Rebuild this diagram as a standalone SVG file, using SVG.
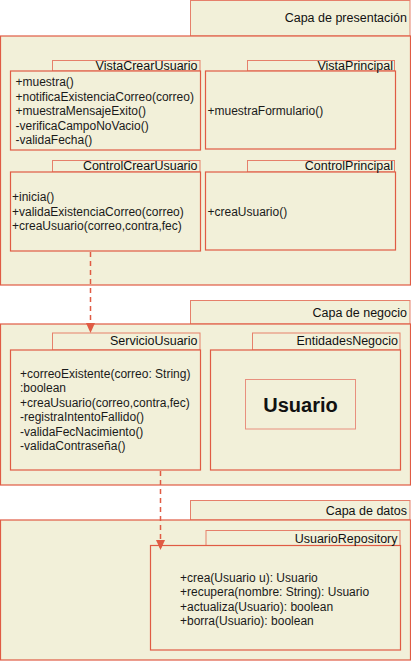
<svg xmlns="http://www.w3.org/2000/svg" width="411" height="668" viewBox="0 0 411 668">
<defs>
<style>
.body{fill:#F2F0D9;stroke:#E05B44;stroke-width:1.2}
.tab{fill:#F2F0D9;stroke:#E6806B;stroke-width:1}
.inner{fill:#F2F0D9;stroke:#E8907E;stroke-width:1}
text{font-family:"Liberation Sans",Arial,sans-serif;font-size:12px;fill:#1a1a1a}
.lbl{text-anchor:end;font-size:12.5px;fill:#111}
.big{font-size:20px;font-weight:bold;text-anchor:middle;fill:#111}
.conn{fill:none;stroke:#E05B44;stroke-width:1.5;stroke-dasharray:5 4}
</style>
<marker id="arr" viewBox="0 0 10 10" refX="10" refY="5" markerWidth="10" markerHeight="10" markerUnits="userSpaceOnUse" orient="auto">
<path d="M0,0.5 L10,5 L0,9.5 Z" fill="#E05B44"/>
</marker>
</defs>

<g id="capa-presentacion">
<rect class="tab" x="190.5" y="0.5" width="219.5" height="35.5"/>
<rect class="body" x="0.5" y="36" width="410" height="249"/>
<text class="lbl" x="407" y="22">Capa de presentación</text>
</g>

<g id="VistaCrearUsuario">
<rect class="tab" x="52.5" y="60.5" width="147.5" height="10.5"/>
<rect class="body" x="10.5" y="71" width="190" height="79"/>
<text class="lbl" x="197.5" y="70">VistaCrearUsuario</text>
<text x="15.5" y="86">+muestra()</text>
<text x="15.5" y="100.5">+notificaExistenciaCorreo(correo)</text>
<text x="15.5" y="115">+muestraMensajeExito()</text>
<text x="15.5" y="129.5">-verificaCampoNoVacio()</text>
<text x="15.5" y="144">-validaFecha()</text>
</g>

<g id="VistaPrincipal">
<rect class="tab" x="247.5" y="60.5" width="147" height="10.5"/>
<rect class="body" x="205.5" y="71" width="190" height="78"/>
<text class="lbl" x="393" y="70">VistaPrincipal</text>
<text x="207.5" y="114.5">+muestraFormulario()</text>
</g>

<g id="ControlCrearUsuario">
<rect class="tab" x="52.5" y="160.5" width="147.5" height="11.5"/>
<rect class="body" x="10.5" y="172" width="190" height="79"/>
<text class="lbl" x="197.5" y="170">ControlCrearUsuario</text>
<text x="12" y="201">+inicia()</text>
<text x="12" y="215.5">+validaExistenciaCorreo(correo)</text>
<text x="12" y="230">+creaUsuario(correo,contra,fec)</text>
</g>

<g id="ControlPrincipal">
<rect class="tab" x="247.5" y="160.5" width="147" height="11.5"/>
<rect class="body" x="205.5" y="172" width="190" height="78"/>
<text class="lbl" x="393" y="170">ControlPrincipal</text>
<text x="207.5" y="215.5">+creaUsuario()</text>
</g>

<g id="capa-negocio">
<rect class="tab" x="190.5" y="300.5" width="219.5" height="23.5"/>
<rect class="body" x="0.5" y="324" width="410" height="161"/>
<text class="lbl" x="407" y="316.5">Capa de negocio</text>
</g>

<g id="ServicioUsuario">
<rect class="tab" x="52.5" y="333" width="147.5" height="17"/>
<rect class="body" x="10.5" y="350" width="190" height="120"/>
<text class="lbl" x="197.5" y="345">ServicioUsuario</text>
<text x="20" y="377.5">+correoExistente(correo: String)</text>
<text x="20" y="392">:boolean</text>
<text x="20" y="406.5">+creaUsuario(correo,contra,fec)</text>
<text x="20" y="421">-registraIntentoFallido()</text>
<text x="20" y="435.5">-validaFecNacimiento()</text>
<text x="20" y="450">-validaContraseña()</text>
</g>

<g id="EntidadesNegocio">
<rect class="tab" x="252.5" y="333" width="147.5" height="17"/>
<rect class="body" x="210.5" y="350" width="190" height="120"/>
<text class="lbl" x="398" y="345">EntidadesNegocio</text>
</g>

<g id="Usuario">
<rect class="inner" x="245.5" y="379.5" width="110" height="49.5"/>
<text class="big" x="300.5" y="412">Usuario</text>
</g>

<g id="capa-datos">
<rect class="tab" x="190.5" y="500.5" width="219.5" height="19.5"/>
<rect class="body" x="0.5" y="520" width="410" height="140"/>
<text class="lbl" x="407" y="514.5">Capa de datos</text>
</g>

<g id="UsuarioRepository">
<rect class="tab" x="206" y="530.5" width="194" height="15"/>
<rect class="body" x="150.5" y="545.5" width="250" height="104.5"/>
<text class="lbl" x="397.5" y="542.5">UsuarioRepository</text>
<text x="180" y="581.5">+crea(Usuario u): Usuario</text>
<text x="180" y="596">+recupera(nombre: String): Usuario</text>
<text x="180" y="610.5">+actualiza(Usuario): boolean</text>
<text x="180" y="625">+borra(Usuario): boolean</text>
</g>

<g id="connectors">
<path class="conn" d="M90.5,252 L90.5,333" marker-end="url(#arr)"/>
<path class="conn" d="M160.5,471 L160.5,550" marker-end="url(#arr)"/>
</g>
</svg>
